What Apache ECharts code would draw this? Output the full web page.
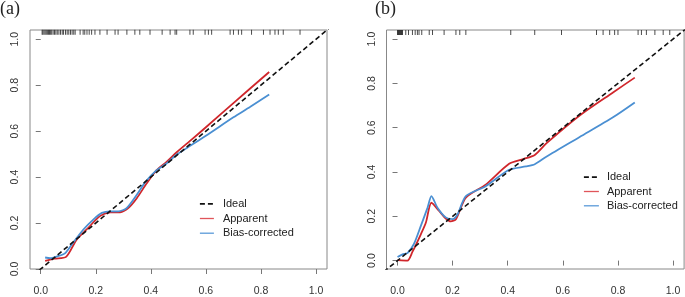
<!DOCTYPE html>
<html>
<head>
<meta charset="utf-8">
<script src="https://cdn.jsdelivr.net/npm/echarts@6/dist/echarts.min.js"></script>
<style>html,body{margin:0;padding:0;background:#fff}#c{width:685px;height:297px}</style>
</head>
<body>
<div id="c"></div>
<script>
// ---- data ----
const tickValues = [0, 0.2, 0.4, 0.6, 0.8, 1.0];
const idealLine = [[-0.05, -0.05], [1.05, 1.05]];

const apparentA = [[0.016,0.035],[0.05,0.045],[0.092,0.053],[0.131,0.129],[0.167,0.172],[0.215,0.23],[0.252,0.246],[0.288,0.247],[0.318,0.265],[0.349,0.308],[0.385,0.373],[0.421,0.43],[0.457,0.466],[0.494,0.508],[0.55,0.565],[0.6,0.617],[0.7,0.722],[0.83,0.857]];
const biasA = [[0.016,0.05],[0.034,0.047],[0.06,0.055],[0.088,0.068],[0.118,0.115],[0.155,0.172],[0.191,0.215],[0.222,0.244],[0.252,0.251],[0.282,0.251],[0.312,0.265],[0.349,0.323],[0.379,0.377],[0.421,0.43],[0.457,0.459],[0.494,0.498],[0.536,0.531],[0.6,0.58],[0.7,0.66],[0.76,0.705],[0.83,0.759]];
const rugA = [0.005,0.008,0.012,0.016,0.02,0.024,0.028,0.032,0.036,0.04,0.045,0.05,0.055,0.06,0.066,0.072,0.078,0.083,0.09,0.096,0.102,0.108,0.114,0.12,0.125,0.143,0.154,0.16,0.168,0.176,0.185,0.197,0.215,0.241,0.27,0.281,0.313,0.342,0.36,0.397,0.441,0.47,0.488,0.494,0.542,0.554,0.597,0.609,0.621,0.688,0.7,0.718,0.73,0.766,0.809,0.833,0.851,0.863,0.881,0.942];

const apparentB = [[0,0.002],[0.036,0],[0.054,0.039],[0.085,0.12],[0.103,0.172],[0.123,0.261],[0.151,0.224],[0.175,0.19],[0.193,0.177],[0.212,0.187],[0.248,0.284],[0.32,0.343],[0.405,0.437],[0.456,0.458],[0.498,0.477],[0.54,0.529],[0.661,0.655],[0.782,0.759],[0.861,0.826]];
const biasB = [[0,0.016],[0.018,0.028],[0.036,0.034],[0.06,0.076],[0.085,0.158],[0.109,0.239],[0.123,0.291],[0.145,0.239],[0.175,0.195],[0.2,0.187],[0.218,0.209],[0.248,0.291],[0.32,0.336],[0.405,0.41],[0.466,0.425],[0.498,0.435],[0.54,0.469],[0.661,0.558],[0.782,0.647],[0.861,0.714]];
const rugB = [0.0,0.002,0.004,0.006,0.008,0.01,0.012,0.014,0.016,0.018,0.03,0.04,0.054,0.064,0.072,0.078,0.088,0.115,0.127,0.169,0.212,0.226,0.248,0.411,0.498,0.595,0.722,0.746,0.77,0.788,0.8,0.873,0.885,0.903,0.934,0.964,0.988];

const panelTitles = ['(a)', '(b)'];
const legendNames = ['Ideal', 'Apparent', 'Bias-corrected'];

// ---- styles ----
const RED = '#d0262b', BLUE = '#4a8fd2', BLACK = '#111';
const narrow = '"Liberation Sans Narrow", "Arial Narrow", "Liberation Sans", sans-serif';
const RUG_Y = 1.03;

function xAxis(gi, min, max) {
  return {
    type: 'value', gridIndex: gi, min: min, max: max,
    axisLine: {show: false}, splitLine: {show: false},
    axisTick: {show: true, inside: false, length: 5, customValues: tickValues, lineStyle: {color: '#777'}},
    axisLabel: {customValues: tickValues, margin: 17, color: '#333', fontSize: 10.5, fontFamily: narrow,
      formatter: v => v.toFixed(1)}
  };
}
function yAxis(gi, min, max) {
  return {
    type: 'value', gridIndex: gi, min: min, max: max,
    axisLine: {show: false}, splitLine: {show: false},
    axisTick: {show: true, inside: false, length: 5, customValues: tickValues, lineStyle: {color: '#777'}},
    axisLabel: {customValues: tickValues, rotate: 90, margin: 9, color: '#333', fontSize: 10.5, fontFamily: narrow,
      formatter: v => v.toFixed(1)}
  };
}
function panelSeries(gi, app, bias, rug) {
  return [
    {type: 'line', name: legendNames[0], xAxisIndex: gi, yAxisIndex: gi, data: idealLine, symbol: 'none', silent: true,
      lineStyle: {color: BLACK, width: 1.6, type: [5, 3]}, itemStyle: {color: BLACK}, z: 3},
    {type: 'line', name: legendNames[1], xAxisIndex: gi, yAxisIndex: gi, data: app, symbol: 'none', smooth: 0.25,
      lineStyle: {color: RED, width: 1.8}, itemStyle: {color: RED}, z: 2},
    {type: 'line', name: legendNames[2], xAxisIndex: gi, yAxisIndex: gi, data: bias, symbol: 'none', smooth: 0.25,
      lineStyle: {color: BLUE, width: 1.8}, itemStyle: {color: BLUE}, z: 2},
    {type: 'scatter', name: 'rug' + gi, xAxisIndex: gi, yAxisIndex: gi, data: rug.map(v => [v, RUG_Y]),
      symbol: 'rect', symbolSize: [0.9, 5], itemStyle: {color: '#222', opacity: 0.9}, silent: true, z: 1}
  ];
}
function legend(left, top, iw, gap, textPad) {
  return {
    orient: 'vertical', left: left, top: top, itemWidth: iw, itemHeight: 10, itemGap: gap,
    selectedMode: false, padding: 0,
    textStyle: {fontFamily: narrow, fontSize: 11, color: '#222', padding: [0, 0, 0, textPad]},
    data: [
      {name: legendNames[0], itemStyle: {color: 'rgba(0,0,0,0)', borderWidth: 0, opacity: 0}, lineStyle: {width: 1.8, color: BLACK, type: [5, 3], opacity: 1}},
      {name: legendNames[1], itemStyle: {color: 'rgba(0,0,0,0)', borderWidth: 0, opacity: 0}, lineStyle: {width: 1.3, color: '#e0555a', type: 'solid', opacity: 1}},
      {name: legendNames[2], itemStyle: {color: 'rgba(0,0,0,0)', borderWidth: 0, opacity: 0}, lineStyle: {width: 1.3, color: '#5a9ad8', type: 'solid', opacity: 1}}
    ]
  };
}

const chart = echarts.init(document.getElementById('c'), null, {renderer: 'canvas'});
chart.setOption({
  animation: false,
  backgroundColor: '#fff',
  title: [
    {text: panelTitles[0], left: 0, top: 0, padding: 0, textStyle: {fontFamily: '"Liberation Serif", serif', fontSize: 18, fontWeight: 'normal', color: '#222'}},
    {text: panelTitles[1], left: 375, top: 0, padding: 0, textStyle: {fontFamily: '"Liberation Serif", serif', fontSize: 18, fontWeight: 'normal', color: '#222'}}
  ],
  grid: [
    {left: 30, top: 30, width: 297, height: 242, show: true, borderColor: '#888', borderWidth: 1, backgroundColor: 'transparent'},
    {left: 386.5, top: 30, width: 297.6, height: 242.3, show: true, borderColor: '#888', borderWidth: 1, backgroundColor: 'transparent'}
  ],
  xAxis: [xAxis(0, -0.039, 1.04), xAxis(1, -0.04, 1.04)],
  yAxis: [yAxis(0, 0, 1.04), yAxis(1, -0.038, 1.041)],
  legend: [legend(199, 198.3, 14, 3.7, 4), legend(583, 171.7, 15, 3.3, 3)],
  series: [].concat(panelSeries(0, apparentA, biasA, rugA), panelSeries(1, apparentB, biasB, rugB))
});
</script>
</body>
</html>
